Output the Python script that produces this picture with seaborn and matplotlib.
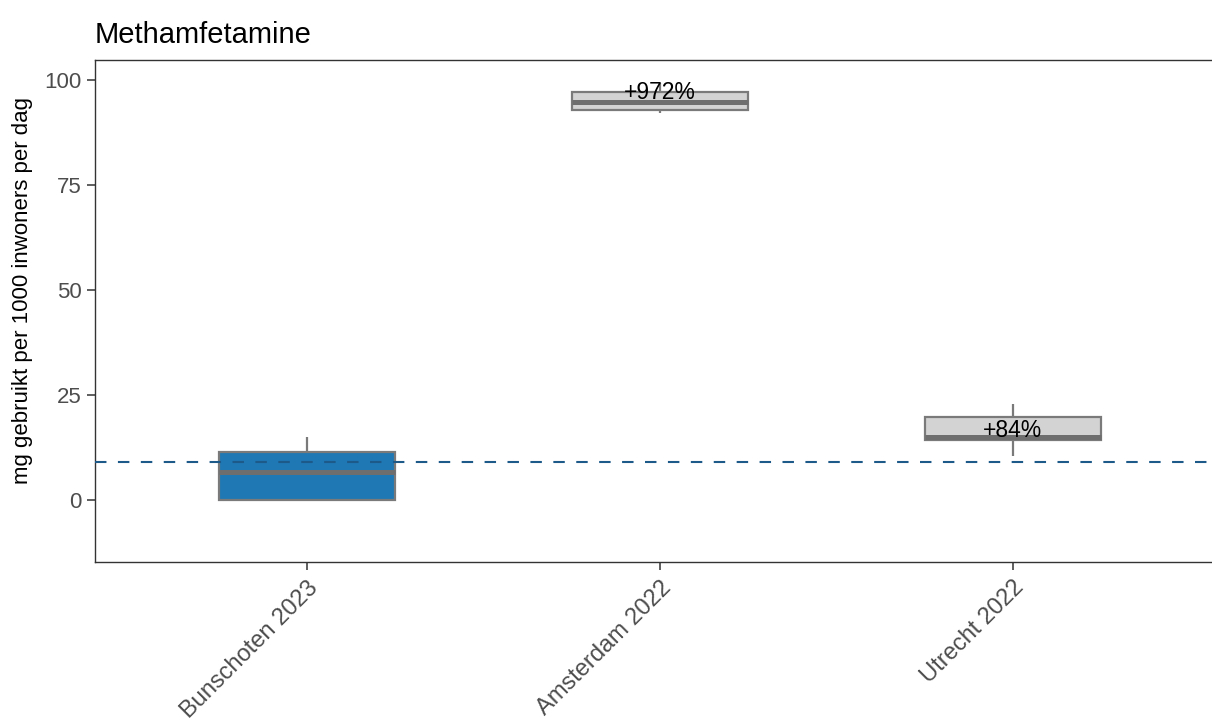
import numpy as np
import pandas as pd
import matplotlib
matplotlib.use("Agg")
import matplotlib.pyplot as plt
import seaborn as sns

# Methamphetamine load per location: five-number samples per group
locaties = ["Bunschoten 2023", "Amsterdam 2022", "Utrecht 2022"]
bunschoten = [0.0, 0.0, 6.6, 11.3, 15.1]
amsterdam = [92.2, 92.8, 94.8, 97.2, 99.3]
utrecht = [10.5, 14.2, 15.1, 19.8, 22.9]
# Group means (Bunschoten mean is the reference line)
gemiddelden = [9.05, 97.0, 16.65]
kleuren = ["#1f77b4", "#d3d3d3", "#d3d3d3"]
y_ticks = [0, 25, 50, 75, 100]

df = pd.DataFrame({
    "locatie": np.repeat(locaties, [len(bunschoten), len(amsterdam), len(utrecht)]),
    "waarde": bunschoten + amsterdam + utrecht,
})

sns.set_theme(style="white")
plt.rcParams["font.family"] = ["Liberation Sans", "DejaVu Sans"]

fig = plt.figure(figsize=(12.12, 7.2), dpi=100)
# panel runs slightly past the right edge of the canvas
ax = fig.add_axes([0.0784, 0.2194, 0.932, 0.6973])

edge = "#7a7a7a"
sns.boxplot(
    data=df, x="locatie", y="waarde", hue="locatie", order=locaties,
    hue_order=locaties, palette=kleuren, legend=False, width=0.5,
    linecolor=edge, linewidth=1.6, showfliers=False, showcaps=False,
    saturation=1, medianprops={"color": "#6e6e6e", "linewidth": 3.6},
    ax=ax,
)

ref = gemiddelden[0]
ax.axhline(ref, color="#1d5a8a", linewidth=1.5, linestyle=(0, (5.5, 5.5)), zorder=5)

for i, m in enumerate(gemiddelden[1:], start=1):
    pct = (m / ref - 1) * 100
    ax.text(i, m, f"+{pct:.0f}%", ha="center", va="center",
            fontsize=16.5, color="black", zorder=6)

ax.set_xlim(-0.6, 2.6)
ax.set_ylim(-14.8, 104.8)
ax.set_yticks(y_ticks)
ax.set_xlabel("")
ax.set_ylabel("mg gebruikt per 1000 inwoners per dag", fontsize=16, color="black")
ax.yaxis.set_label_coords(-0.055, 0.54)
ax.set_title("Methamfetamine", loc="left", fontsize=21, color="black", pad=12)

ax.tick_params(axis="both", which="major", length=5.5, width=1.1, color="#333333",
               labelcolor="#4d4d4d", labelsize=16, bottom=True, left=True, pad=4)
ax.tick_params(axis="x", labelsize=17, pad=5)
plt.setp(ax.get_xticklabels(), rotation=45, ha="right", va="top", rotation_mode="anchor")
for s in ax.spines.values():
    s.set_color("#333333")
    s.set_linewidth(1.0)
ax.grid(False)

fig.savefig("out.png", dpi=100)
